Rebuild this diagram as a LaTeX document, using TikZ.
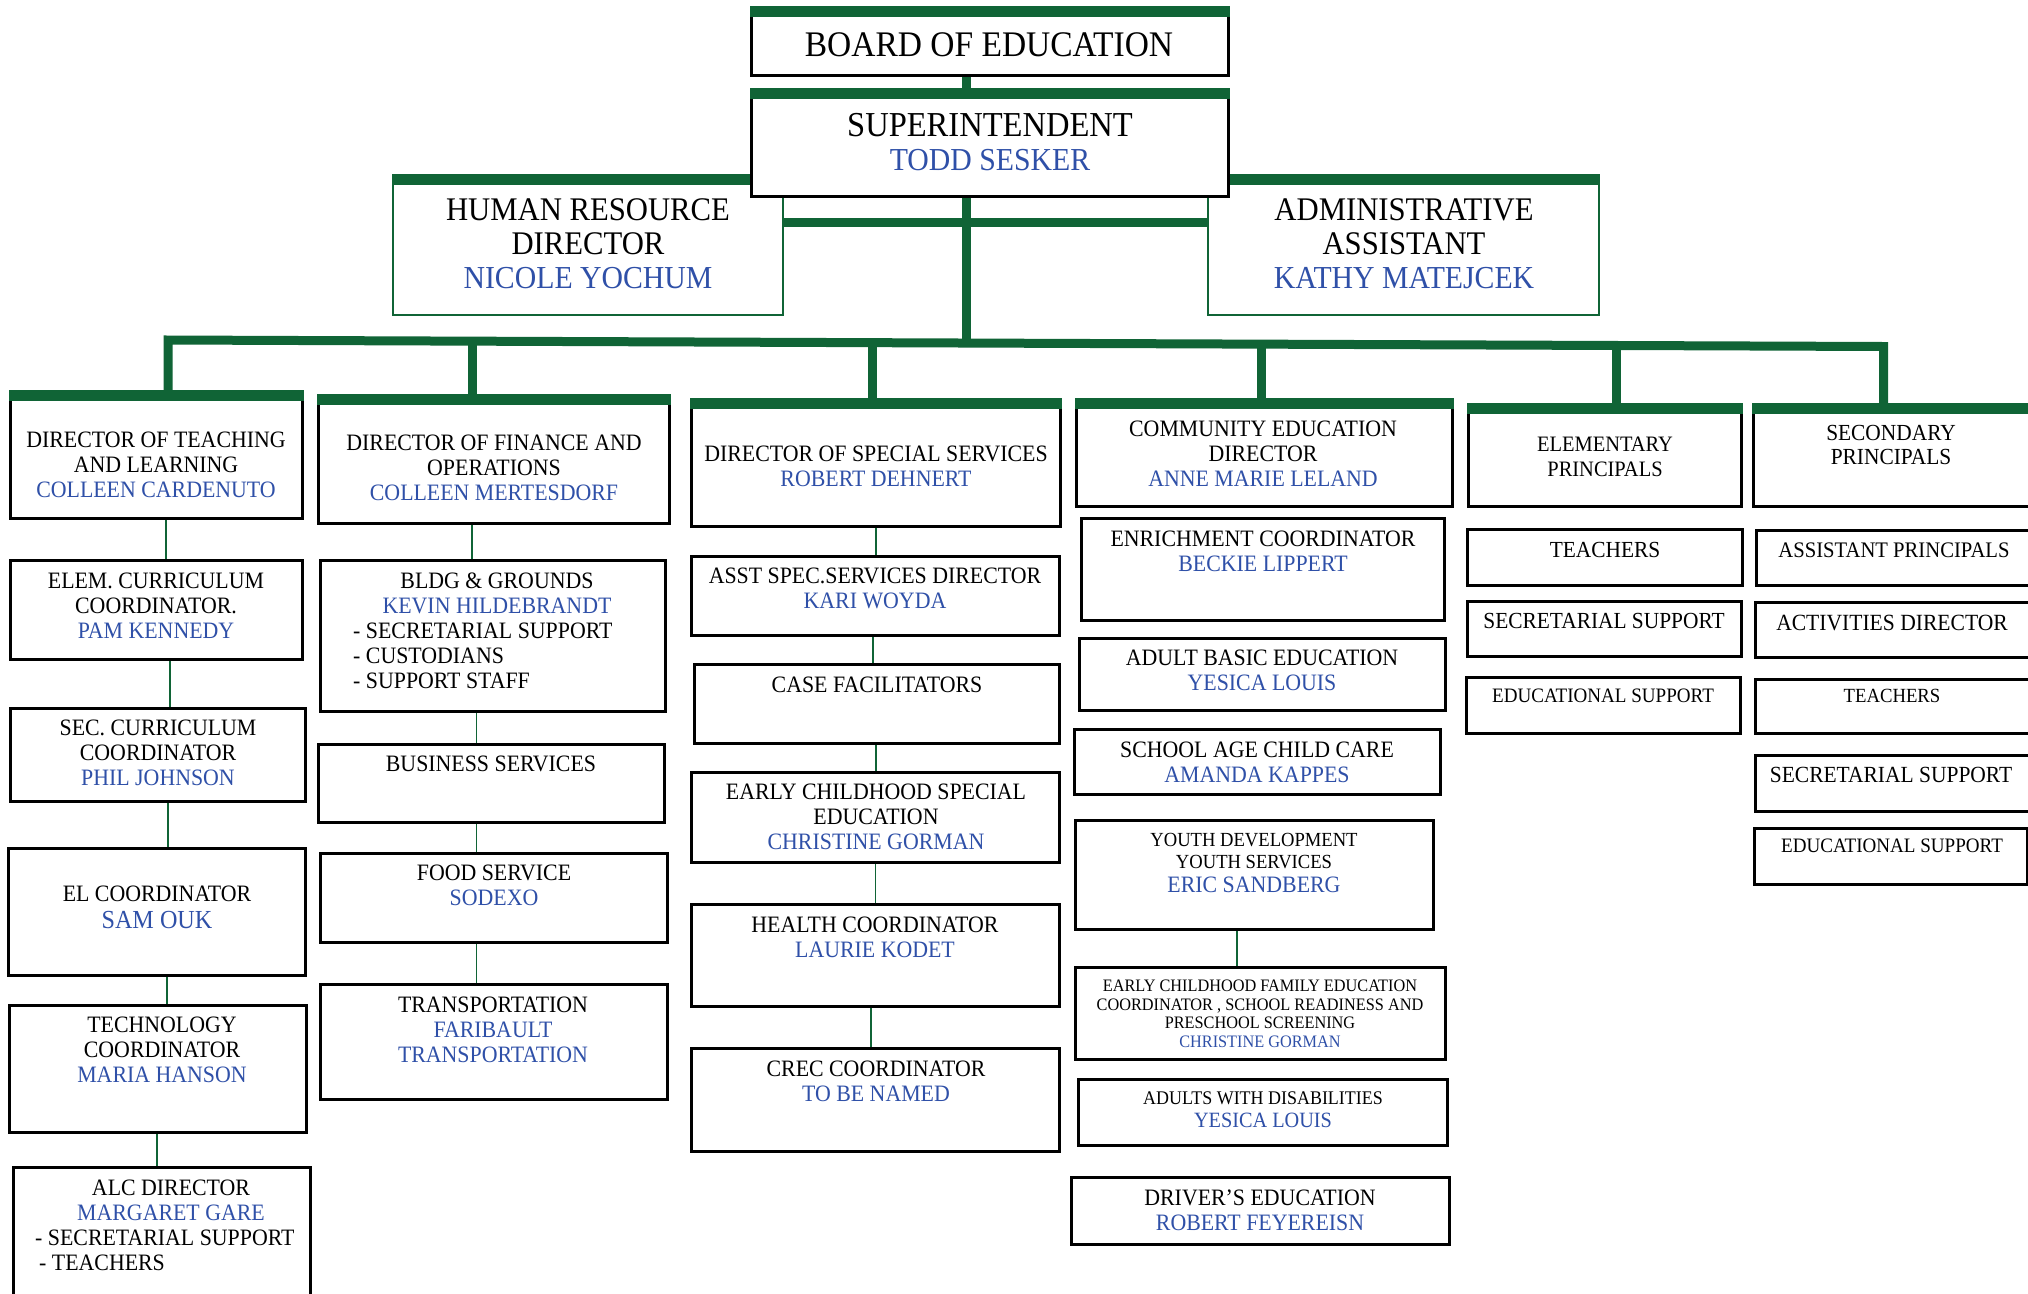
\documentclass[tikz,border=0pt]{standalone}
\usepackage{fontspec}
\setmainfont{Liberation Serif}[FakeStretch=0.93]
\usepackage{xcolor}
\usepackage{tikz}

\definecolor{barg}{RGB}{16,100,54}
\definecolor{nameblue}{RGB}{47,80,168}
\newcommand{\who}[1]{\textcolor{nameblue}{#1}}
\newcommand{\fs}[2]{\fontsize{#1}{#2}\selectfont}

\begin{document}
\begin{tikzpicture}[x=1pt,y=1pt,
  box/.style={draw=black,line width=2.8pt,fill=white,inner sep=0pt,anchor=north west},
  gbox/.style={box,draw=barg,line width=2pt},
  cell/.style n args={4}{at={(#1,-#2)},minimum width={#3-#1-2.8},minimum height={#4-#2-2.8}},
  lbl/.style={anchor=north,align=center,inner sep=0pt,font=\fs{23.5}{25}},
  lst/.style={lbl,anchor=north west,align=left},
  link/.style={draw=barg,line width=1.8pt},
  trunk/.style={draw=barg,line width=9pt}]
  \useasboundingbox (0,0) rectangle (2028,-1293);
  \clip (0,0) rectangle (2028,-1293);

  % ── Top: board, HR, admin, superintendent ─────────
  \node[box,cell={750}{6}{1230}{77}] (board) {};
  \node[gbox,cell={392}{174}{785}{317}] (hr) {};
  \node[gbox,cell={1207}{174}{1601}{317}] (adm) {};
  \fill[barg] (hr.north west) rectangle ([yshift=-11pt]hr.north east);
  \fill[barg] (adm.north west) rectangle ([yshift=-11pt]adm.north east);
  \node[box,cell={750}{88}{1230}{198}] (super) {};
  \fill[barg] (board.north west) rectangle ([yshift=-11pt]board.north east);
  \fill[barg] (super.north west) rectangle ([yshift=-11pt]super.north east);

  \node[lbl,font=\fs{36}{38}] (board-l) at (989,-32) {BOARD OF EDUCATION};
  \node[lbl,font=\fs{35}{34}] (super-l) at (990,-113) {SUPERINTENDENT\\\who{\fs{32}{34}TODD SESKER}};
  \node[lbl,font=\fs{33}{34}] (hr-l) at (588,-198) {HUMAN RESOURCE\\DIRECTOR\\\who{\fs{32}{34}NICOLE YOCHUM}};
  \node[lbl,font=\fs{33}{34}] (adm-l) at (1404,-198) {ADMINISTRATIVE\\ASSISTANT\\\who{\fs{32}{34}KATHY MATEJCEK}};

  % ── Column 1: teaching and learning ───────────────
  \node[box,cell={9}{390}{304}{520}] (teach) {};
  \node[box,cell={9}{559}{304}{661}] (elem) {};
  \node[box,cell={9}{707}{307}{803}] (sec) {};
  \node[box,cell={7}{847}{307}{977}] (ell) {};
  \node[box,cell={8}{1004}{308}{1134}] (tech) {};
  \node[box,cell={12}{1166}{312}{1320}] (alc) {};
  \node[lbl] (teach-l) at (156,-432) {DIRECTOR OF TEACHING\\AND LEARNING\\\who{COLLEEN CARDENUTO}};
  \node[lbl] (elem-l) at (156,-573) {ELEM. CURRICULUM\\COORDINATOR.\\\who{PAM KENNEDY}};
  \node[lbl] (sec-l) at (158,-720) {SEC. CURRICULUM\\COORDINATOR\\\who{PHIL JOHNSON}};
  \node[lbl] (ell-l) at (157,-886) {EL COORDINATOR\\[1.3pt]\who{\fs{26}{27}SAM OUK}};
  \node[lbl] (tech-l) at (162,-1017) {TECHNOLOGY\\COORDINATOR\\\who{MARIA HANSON}};
  \node[lbl] (alc-l) at (171,-1180) {ALC DIRECTOR\\\who{MARGARET GARE}};
  \node[lst] (alc-s) at (35,-1229.5) {- SECRETARIAL SUPPORT\\\hspace*{4pt}- TEACHERS};

  % ── Column 2: finance and operations ──────────────
  \node[box,cell={317}{394}{671}{525}] (fin) {};
  \node[box,cell={319}{559}{667}{713}] (bldg) {};
  \node[box,cell={317}{743}{666}{824}] (busi) {};
  \node[box,cell={319}{852}{669}{944}] (food) {};
  \node[box,cell={319}{983}{669}{1101}] (trans) {};
  \node[lbl] (fin-l) at (494,-435) {DIRECTOR OF FINANCE AND\\OPERATIONS\\\who{COLLEEN MERTESDORF}};
  \node[lbl] (bldg-l) at (497,-573) {BLDG \& GROUNDS\\\who{KEVIN HILDEBRANDT}};
  \node[lst] (bldg-s) at (353,-623) {- SECRETARIAL SUPPORT\\- CUSTODIANS\\- SUPPORT STAFF};
  \node[lbl] (busi-l) at (491,-756) {BUSINESS SERVICES};
  \node[lbl] (food-l) at (494,-865) {FOOD SERVICE\\\who{SODEXO}};
  \node[lbl] (trans-l) at (493,-997) {TRANSPORTATION\\\who{FARIBAULT}\\\who{TRANSPORTATION}};

  % ── Column 3: special services ────────────────────
  \node[box,cell={690}{398}{1062}{528}] (spec) {};
  \node[box,cell={690}{555}{1061}{637}] (asst) {};
  \node[box,cell={693}{663}{1061}{745}] (casef) {};
  \node[box,cell={690}{771}{1061}{864}] (ecse) {};
  \node[box,cell={690}{903}{1061}{1008}] (health) {};
  \node[box,cell={690}{1047}{1061}{1153}] (crec) {};
  \node[lbl] (spec-l) at (876,-446) {DIRECTOR OF SPECIAL SERVICES\\\who{ROBERT DEHNERT}};
  \node[lbl] (asst-l) at (875,-568) {ASST SPEC.SERVICES DIRECTOR\\\who{KARI WOYDA}};
  \node[lbl] (casef-l) at (877,-677) {CASE FACILITATORS};
  \node[lbl] (ecse-l) at (876,-784) {EARLY CHILDHOOD SPECIAL\\EDUCATION\\\who{CHRISTINE GORMAN}};
  \node[lbl] (health-l) at (875,-917) {HEALTH COORDINATOR\\\who{LAURIE KODET}};
  \node[lbl] (crec-l) at (876,-1061) {CREC COORDINATOR\\\who{TO BE NAMED}};

  % ── Column 4: community education ─────────────────
  \node[box,cell={1075}{398}{1454}{508}] (comm) {};
  \node[box,cell={1080}{517}{1446}{622}] (enrich) {};
  \node[box,cell={1078}{637}{1447}{712}] (abe) {};
  \node[box,cell={1073}{728}{1442}{796}] (sacc) {};
  \node[box,cell={1074}{819}{1435}{931}] (youth) {};
  \node[box,cell={1074}{966}{1447}{1061}] (ecfe) {};
  \node[box,cell={1077}{1078}{1449}{1147}] (adw) {};
  \node[box,cell={1070}{1176}{1451}{1246}] (drv) {};
  \node[lbl] (comm-l) at (1263,-421) {COMMUNITY EDUCATION\\DIRECTOR\\\who{ANNE MARIE LELAND}};
  \node[lbl] (enrich-l) at (1263,-531) {ENRICHMENT COORDINATOR\\\who{BECKIE LIPPERT}};
  \node[lbl] (abe-l) at (1262,-650) {ADULT BASIC EDUCATION\\\who{YESICA LOUIS}};
  \node[lbl] (sacc-l) at (1257,-742) {SCHOOL AGE CHILD CARE\\\who{AMANDA KAPPES}};
  \node[lbl,font=\fs{20}{21.6}] (youth-l) at (1254,-833) {YOUTH DEVELOPMENT\\YOUTH SERVICES\\[2.8pt]\who{\fs{23.5}{25}ERIC SANDBERG}};
  \node[lbl,font=\fs{17.5}{18.8}] (ecfe-l) at (1260,-979.5) {EARLY CHILDHOOD FAMILY EDUCATION\\COORDINATOR , SCHOOL READINESS AND\\PRESCHOOL SCREENING\\\who{CHRISTINE GORMAN}};
  \node[lbl,font=\fs{19.3}{22.3}] (adw-l) at (1263,-1092) {ADULTS WITH DISABILITIES\\\who{\fs{21.8}{23}YESICA LOUIS}};
  \node[lbl] (drv-l) at (1260,-1190) {DRIVER'S EDUCATION\\\who{ROBERT FEYEREISN}};

  % ── Column 5: elementary ──────────────────────────
  \node[box,cell={1467}{403}{1743}{508}] (elp) {};
  \node[box,cell={1466}{528}{1744}{587}] (eteach) {};
  \node[box,cell={1466}{600}{1743}{658}] (esec) {};
  \node[box,cell={1465}{676}{1742}{735}] (eedu) {};
  \node[lbl,font=\fs{22}{25}] (elp-l) at (1605,-437) {ELEMENTARY\\PRINCIPALS};
  \node[lbl,font=\fs{23}{25}] (eteach-l) at (1605,-542) {TEACHERS};
  \node[lbl,font=\fs{23}{25}] (esec-l) at (1604,-613) {SECRETARIAL SUPPORT};
  \node[lbl,font=\fs{20.5}{22}] (eedu-l) at (1603,-689) {EDUCATIONAL SUPPORT};

  % ── Column 6: secondary ───────────────────────────
  \node[box,cell={1752}{403}{2032}{508}] (secp) {};
  \node[box,cell={1755}{529}{2032}{587}] (sasst) {};
  \node[box,cell={1754}{601}{2032}{659}] (sact) {};
  \node[box,cell={1754}{678}{2032}{735}] (steach) {};
  \node[box,cell={1754}{754}{2032}{813}] (ssec) {};
  \node[box,cell={1753}{827}{2029}{886}] (sedu) {};
  \node[lbl,font=\fs{23}{24.3}] (secp-l) at (1891,-425) {SECONDARY\\PRINCIPALS};
  \node[lbl,font=\fs{22.2}{25}] (sasst-l) at (1894,-543) {ASSISTANT PRINCIPALS};
  \node[lbl,font=\fs{23.2}{25}] (sact-l) at (1892,-615) {ACTIVITIES DIRECTOR};
  \node[lbl,font=\fs{20.1}{22}] (steach-l) at (1892,-689) {TEACHERS};
  \node[lbl,font=\fs{23.1}{25}] (ssec-l) at (1891,-767) {SECRETARIAL SUPPORT};
  \node[lbl,font=\fs{20.5}{22}] (sedu-l) at (1892,-839) {EDUCATIONAL SUPPORT};

  % ── Green bars on the head boxes ──────────────────
  \fill[barg] (teach.north west) rectangle ([yshift=-11pt]teach.north east);
  \fill[barg] (fin.north west) rectangle ([yshift=-11pt]fin.north east);
  \fill[barg] (spec.north west) rectangle ([yshift=-11pt]spec.north east);
  \fill[barg] (comm.north west) rectangle ([yshift=-11pt]comm.north east);
  \fill[barg] (elp.north west) rectangle ([yshift=-11pt]elp.north east);
  \fill[barg] (secp.north west) rectangle ([yshift=-11pt]secp.north east);

  % ── Trunk and bus (thick green) ───────────────────
  \coordinate (top) at (966,-343.3);
  \coordinate (busL) at (168,-340);
  \coordinate (busR) at (1883.5,-346.5);
  \coordinate (d2) at (472,-341.2);
  \coordinate (d3) at (872,-342.7);
  \coordinate (d4) at (1261.5,-344.1);
  \coordinate (d5) at (1616.5,-345.5);
  \draw[trunk] (top |- board.south) -- (top |- super.north);
  \draw[trunk] (top |- super.south) -- (top);
  \draw[trunk] (hr.east |- 0,-222) -- (adm.west |- 0,-222);
  \draw[trunk] (busL |- teach.north) -- (busL) -- (busR) -- (busR |- secp.north);
  \draw[trunk] (d2) -- (d2 |- fin.north);
  \draw[trunk] (d3) -- (d3 |- spec.north);
  \draw[trunk] (d4) -- (d4 |- comm.north);
  \draw[trunk] (d5) -- (d5 |- elp.north);

  % ── Thin links inside the columns ─────────────────
  \draw[link] ([xshift=9.5pt]teach.south) -- ([xshift=9.5pt]teach.south |- elem.north);
  \draw[link] ([xshift=13.5pt]elem.south) -- ([xshift=13.5pt]elem.south |- sec.north);
  \draw[link] ([xshift=10pt]sec.south) -- ([xshift=10pt]sec.south |- ell.north);
  \draw[link] ([xshift=10pt]ell.south) -- ([xshift=10pt]ell.south |- tech.north);
  \draw[link] ([xshift=-1pt]tech.south) -- ([xshift=-1pt]tech.south |- alc.north);
  \draw[link] ([xshift=-22pt]fin.south) -- ([xshift=-22pt]fin.south |- bldg.north);
  \draw[link] ([xshift=-16.5pt]bldg.south) -- ([xshift=-16.5pt]bldg.south |- busi.north);
  \draw[link] ([xshift=-15pt]busi.south) -- ([xshift=-15pt]busi.south |- food.north);
  \draw[link] ([xshift=-17.5pt]food.south) -- ([xshift=-17.5pt]food.south |- trans.north);
  \draw[link] (spec.south) -- (spec.south |- asst.north);
  \draw[link] ([xshift=-2.5pt]asst.south) -- ([xshift=-2.5pt]asst.south |- casef.north);
  \draw[link] ([xshift=-1pt]casef.south) -- ([xshift=-1pt]casef.south |- ecse.north);
  \draw[link] (ecse.south) -- (ecse.south |- health.north);
  \draw[link] ([xshift=-4.5pt]health.south) -- ([xshift=-4.5pt]health.south |- crec.north);
  \draw[link] ([xshift=-17.5pt]youth.south) -- ([xshift=-17.5pt]youth.south |- ecfe.north);
\end{tikzpicture}
\end{document}
